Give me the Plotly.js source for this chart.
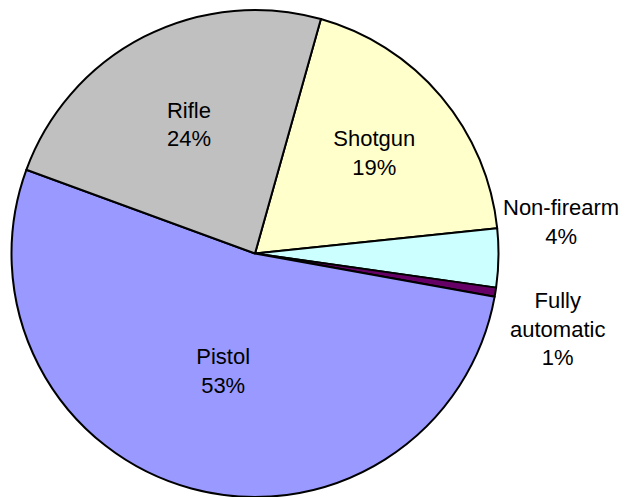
<!DOCTYPE html>
<html>
<head>
<meta charset="utf-8">
<script src="https://cdn.plot.ly/plotly-3.0.1.min.js"></script>
<style>
  html, body { margin: 0; padding: 0; background: #fff; }
  #chart { width: 625px; height: 497px; }
</style>
</head>
<body>
<div id="chart"></div>
<script>
// weapon categories, clockwise from the top
var weapons = ["Shotgun", "Non-firearm", "Fully automatic", "Pistol", "Rifle"];
var shares = [19.0, 3.9, 0.6, 52.8, 23.8];
var shownLabels = ["Shotgun", "Non-firearm", "Fully<br>automatic", "Pistol", "Rifle"];
var sliceColors = ["#ffffcc", "#ccffff", "#660066", "#9999ff", "#c0c0c0"];

var labelFont = {family: "Liberation Sans, Arial, sans-serif", size: 22, color: "#000"};
var total = shares.reduce((a, b) => a + b, 0);
var pct = shares.map(v => Math.round(v / total * 100) + "%");

// the two thin slices get their labels beside the pie, no leader lines
var trace = {
    type: "pie",
    labels: weapons,
    values: shares,
    text: shownLabels,
    sort: false,
    direction: "clockwise",
    rotation: 15.7,
    texttemplate: "%{text}<br>%{percent:.0%}",
    textposition: ["inside", "none", "none", "inside", "inside"],
    insidetextorientation: "horizontal",
    textfont: labelFont,
    marker: {colors: sliceColors, line: {color: "#000", width: 2}},
    domain: {x: [0.0176, 0.7984], y: [0, 1]},
    hoverinfo: "none"
};

var layout = {
    width: 625,
    height: 497,
    margin: {l: 0, r: 0, t: 10, b: 0},
    showlegend: false,
    paper_bgcolor: "#fff",
    annotations: [
        {xref: "paper", yref: "paper", x: 561 / 625, y: 1 - 212 / 487,
         xanchor: "center", yanchor: "middle",
         text: shownLabels[1] + "<br>" + pct[1], showarrow: false, font: labelFont},
        {xref: "paper", yref: "paper", x: 557 / 625, y: 1 - 319 / 487,
         xanchor: "center", yanchor: "middle",
         text: shownLabels[2] + "<br>" + pct[2], showarrow: false, font: labelFont}
    ]
};

Plotly.newPlot("chart", [trace], layout, {staticPlot: true});
</script>
</body>
</html>
